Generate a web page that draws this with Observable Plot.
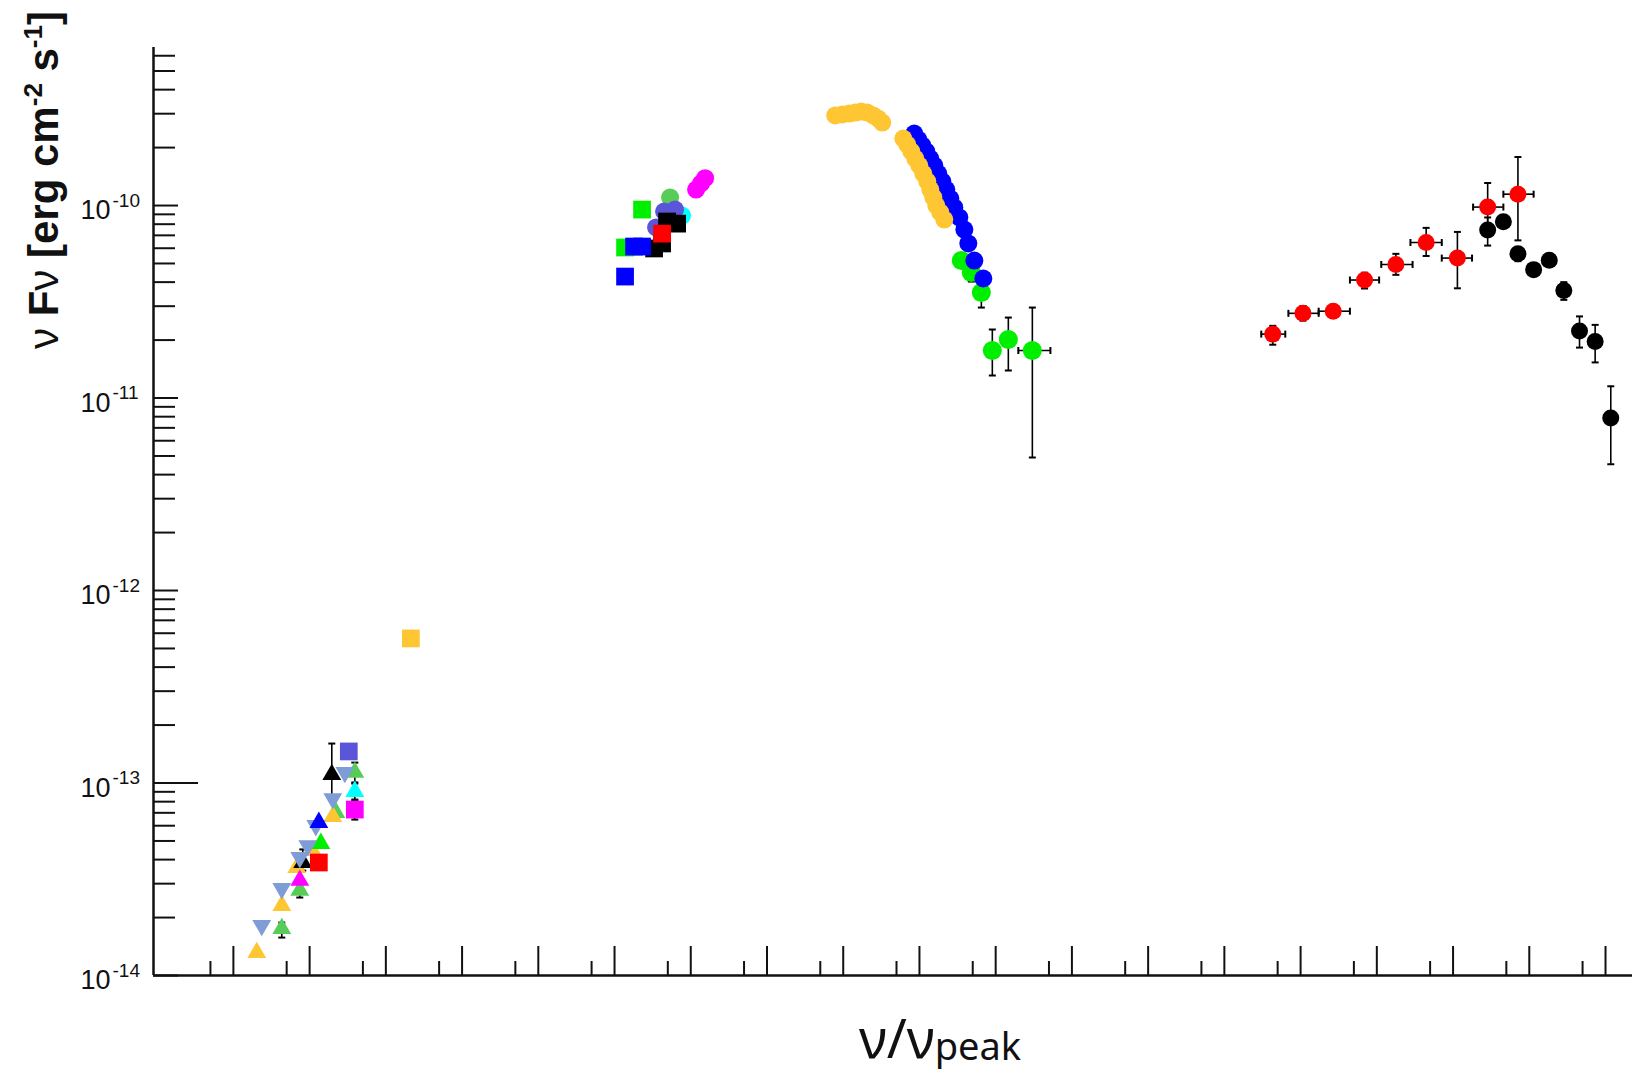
<!DOCTYPE html>
<html>
<head>
<meta charset="utf-8">
<script src="https://cdn.jsdelivr.net/npm/d3@7"></script>
<script src="https://cdn.jsdelivr.net/npm/@observablehq/plot@0.6"></script>
<style>
  html, body { margin: 0; padding: 0; background: #fff; }
  #chart { width: 1635px; height: 1074px; }
</style>
</head>
<body>
<div id="chart"></div>
<script>
// ---------------- DATA (log10 values) ----------------
// rows: [series, log10(ν/νpeak), log10(νFν), errLow, errHigh, xErrLow, xErrHigh]
const radioPoints = [
  ["orangeTri", -7.693, -13.881],
  ["bgDown",    -7.628, -13.740],
  ["lgreenTri", -7.365, -13.756, -13.803, -13.725],
  ["orangeTri", -7.365, -13.636],
  ["bgDown",    -7.365, -13.548],
  ["lgreenTri", -7.129, -13.558, -13.595, -13.527],
  ["magentaTri",-7.129, -13.506],
  ["orangeTri", -7.168, -13.439],
  ["blackTri",  -7.090, -13.413, -13.455, -13.345],
  ["bgDown",    -7.129, -13.387],
  ["orangeTri", -6.961, -13.351],
  ["bgDown",    -7.024, -13.325],
  ["redSq",     -6.879, -13.413],
  ["greenTri",  -6.853, -13.314],
  ["bgDown",    -6.919, -13.221],
  ["blueTri",   -6.879, -13.205],
  ["lgreenTri", -6.656, -13.153],
  ["orangeTri", -6.696, -13.174],
  ["bgDown",    -6.696, -13.081],
  ["blackTri",  -6.709, -12.956, -13.091, -12.795],
  ["bgDown",    -6.538, -12.945],
  ["purpleSq",  -6.486, -12.836],
  ["lgreenTri", -6.407, -12.945, -12.997, -12.894],
  ["cyanTri",   -6.407, -13.044, -13.086, -13.003],
  ["magentaSq", -6.407, -13.138, -13.190, -13.091],
  ["orangeSq",  -5.672, -12.249]
];

const opticalPoints = [
  ["lgreenCirc", -2.271, -9.958],
  ["cyanCirc",   -2.114, -10.052],
  ["purpleCirc", -2.455, -10.114],
  ["purpleCirc", -2.350, -10.031],
  ["purpleCirc", -2.206, -10.021],
  ["blackSq",    -2.481, -10.223],
  ["blackSq",    -2.376, -10.197],
  ["blackSq",    -2.311, -10.083],
  ["blackSq",    -2.179, -10.094],
  ["redSq",      -2.376, -10.146],
  ["greenSq",    -2.862, -10.218],
  ["greenSq",    -2.639, -10.021],
  ["blueSq",     -2.862, -10.369],
  ["blueSq",     -2.744, -10.213],
  ["blueSq",     -2.639, -10.213],
  ["magentaCirc",-1.930, -9.917],
  ["magentaCirc",-1.865, -9.885],
  ["magentaCirc",-1.812, -9.858]
];

const greenSyncPoints = [
  ["greenCirc", 1.549, -10.286],
  ["greenCirc", 1.680, -10.348, -10.395, -10.306],
  ["greenCirc", 1.812, -10.452, -10.530, -10.390],
  ["greenCirc", 1.956, -10.753, -10.883, -10.644],
  ["greenCirc", 2.166, -10.696, -10.857, -10.582],
  ["greenCirc", 2.481, -10.753, -11.309, -10.530, 2.297, 2.718]
];

const blueSyncLogNu = [0.932, 0.985, 1.037, 1.090, 1.142, 1.195, 1.247, 1.300, 1.352, 1.405, 1.457, 1.523, 1.589, 1.641, 1.720, 1.838];
const blueSyncLogF  = [-9.626, -9.657, -9.688, -9.719, -9.756, -9.792, -9.834, -9.875, -9.917, -9.964, -10.010, -10.062, -10.125, -10.197, -10.286, -10.379];

const orangeSyncLogNu = [-0.105, -0.013, 0.079, 0.158, 0.236, 0.315, 0.394, 0.459, 0.512,
                         0.788, 0.840, 0.893, 0.945, 0.998, 1.050, 1.103, 1.142, 1.182, 1.221, 1.273, 1.326];
const orangeSyncLogF  = [-9.532, -9.527, -9.522, -9.517, -9.512, -9.517, -9.532, -9.548, -9.569,
                         -9.652, -9.683, -9.719, -9.756, -9.792, -9.834, -9.875, -9.917, -9.958, -10.000, -10.036, -10.073];

const gammaBlackPoints = [
  ["blackCirc", 8.454, -10.127, -10.208, -10.062],
  ["blackCirc", 8.660, -10.084, -10.106, -10.062],
  ["blackCirc", 8.851, -10.251, -10.289, -10.219],
  ["blackCirc", 9.057, -10.333, -10.366, -10.300],
  ["blackCirc", 9.262, -10.284, -10.306, -10.262],
  ["blackCirc", 9.453, -10.441, -10.490, -10.398],
  ["blackCirc", 9.659, -10.652, -10.738, -10.576],
  ["blackCirc", 9.864, -10.706, -10.815, -10.620],
  ["blackCirc", 10.069, -11.104, -11.344, -10.939]
];

const gammaRedPoints = [
  ["redCirc", 5.635, -10.668, -10.723, -10.625, 5.484, 5.799],
  ["redCirc", 6.031, -10.560, -10.598, -10.522, 5.840, 6.237],
  ["redCirc", 6.428, -10.549, -10.583, -10.517, 6.237, 6.647],
  ["redCirc", 6.839, -10.387, -10.431, -10.349, 6.647, 7.030],
  ["redCirc", 7.250, -10.306, -10.360, -10.251, 7.058, 7.469],
  ["redCirc", 7.647, -10.192, -10.262, -10.116, 7.441, 7.852],
  ["redCirc", 8.057, -10.273, -10.430, -10.137, 7.852, 8.249],
  ["redCirc", 8.454, -10.008, -10.127, -9.883, 8.263, 8.660],
  ["redCirc", 8.851, -9.941, -10.181, -9.748, 8.660, 9.057]
];

// axis ticks (exponents)
const xMajorExp = [-8,-7,-6,-5,-4,-3,-2,-1,0,1,2,3,4,5,6,7,8,9,10];
const xMinorExp = [-9,-8,-7,-6,-5,-4,-3,-2,-1,0,1,2,3,4,5,6,7,8,9]; // at 5×10^n
const yMajorExp = [-14,-13,-12,-11,-10];
const yMinorMult = [2,3,4,5,6,7,8,9];
const yTopMinorMult = [2,3,4,5,6];
const xDomainExp = [-9.048, 10.354];
const yDomainExp = [-14, -9.179];

// ---------------- STYLES ----------------
const style = {
  orangeTri:  {symbol: "triangle", fill: "#FFC634", r: 7},
  bgDown:     {symbol: "triangle", fill: "#7E9CD6", r: 7, rotate: 180},
  lgreenTri:  {symbol: "triangle", fill: "#58CC58", r: 7},
  greenTri:   {symbol: "triangle", fill: "#00EE00", r: 7},
  magentaTri: {symbol: "triangle", fill: "#FF00FF", r: 7},
  blackTri:   {symbol: "triangle", fill: "#000000", r: 7},
  blueTri:    {symbol: "triangle", fill: "#0000FF", r: 7},
  cyanTri:    {symbol: "triangle", fill: "#00FFFF", r: 7},
  redSq:      {symbol: "square",   fill: "#FF0000", r: 10},
  purpleSq:   {symbol: "square",   fill: "#5B55D9", r: 10},
  magentaSq:  {symbol: "square",   fill: "#FF00FF", r: 10},
  orangeSq:   {symbol: "square",   fill: "#FFC634", r: 10},
  greenSq:    {symbol: "square",   fill: "#00EE00", r: 10},
  blueSq:     {symbol: "square",   fill: "#0000FF", r: 10},
  blackSq:    {symbol: "square",   fill: "#000000", r: 10},
  lgreenCirc: {symbol: "circle",   fill: "#58CC58", r: 9},
  cyanCirc:   {symbol: "circle",   fill: "#00FFFF", r: 9},
  purpleCirc: {symbol: "circle",   fill: "#5B55D9", r: 9},
  magentaCirc:{symbol: "circle",   fill: "#FF00FF", r: 9},
  greenCirc:  {symbol: "circle",   fill: "#00EE00", r: 9.5},
  blueCirc:   {symbol: "circle",   fill: "#0000FF", r: 9},
  orangeCirc: {symbol: "circle",   fill: "#FFC634", r: 9},
  redCirc:    {symbol: "circle",   fill: "#FF0000", r: 8.5},
  blackCirc:  {symbol: "circle",   fill: "#000000", r: 8.5}
};

// ---------------- BUILD ----------------
const p10 = v => (v == null ? null : 10 ** v);
const toRows = arr => arr.map(([s, lx, ly, ylo, yhi, xlo, xhi]) => ({
  s, x: p10(lx), y: p10(ly), ylo: p10(ylo), yhi: p10(yhi), xlo: p10(xlo), xhi: p10(xhi)
}));

const radio = toRows(radioPoints);
const optical = toRows(opticalPoints);
const greenSync = toRows(greenSyncPoints);
const blueSync = toRows(blueSyncLogNu.map((v, i) => ["blueCirc", v, blueSyncLogF[i]]));
const orangeSync = toRows(orangeSyncLogNu.map((v, i) => ["orangeCirc", v, orangeSyncLogF[i]]));
const gBlack = toRows(gammaBlackPoints);
const gRed = toRows(gammaRedPoints);
const all = [...radio, ...optical, ...greenSync, ...blueSync, ...orangeSync, ...gBlack, ...gRed];
const yErr = all.filter(d => d.ylo != null);
const xErr = all.filter(d => d.xlo != null);

const capH = {draw(c) { c.moveTo(-3.5, 0); c.lineTo(3.5, 0); }};
const capV = {draw(c) { c.moveTo(0, -3.5); c.lineTo(0, 3.5); }};

function dots(rows, order) {
  return order.map(k => Plot.dot(rows.filter(d => d.s === k), {
    x: "x", y: "y", symbol: style[k].symbol, fill: style[k].fill, r: style[k].r,
    rotate: style[k].rotate || 0, stroke: "none"
  }));
}

const W = 1635, H = 1074, mL = 153, mR = 3, mT = 47, mB = 99;
const frameW = W - mL - mR, frameH = H - mT - mB;

const xMajor = xMajorExp.map(e => 10 ** e);
const xMinor = xMinorExp.map(e => 5 * 10 ** e);
const yMajor = yMajorExp.map(e => 10 ** e);
const yMinor = [];
for (const e of yMajorExp.slice(0, 4)) for (const m of yMinorMult) yMinor.push(m * 10 ** e);
for (const m of yTopMinorMult) yMinor.push(m * 1e-10);

const labelFont = "Liberation Sans, Arial, Helvetica, sans-serif";

const chart = Plot.plot({
  width: W, height: H,
  marginLeft: mL, marginRight: mR, marginTop: mT, marginBottom: mB,
  style: {background: "#fff", overflow: "visible"},
  x: {type: "log", domain: xDomainExp.map(p10), axis: null},
  y: {type: "log", domain: yDomainExp.map(p10), axis: null},
  marks: [
    // axis ticks
    Plot.tickX(xMajor, {x: d => d, insetTop: frameH - 29, stroke: "#111", strokeWidth: 2}),
    Plot.tickX(xMinor, {x: d => d, insetTop: frameH - 14, stroke: "#111", strokeWidth: 2}),
    Plot.tickY(yMajor, {y: d => d, insetRight: frameW - 25, stroke: "#111", strokeWidth: 2}),
    Plot.tickY(yMinor, {y: d => d, insetRight: frameW - 22, stroke: "#111", strokeWidth: 2}),
    Plot.tickY([1e-13], {y: d => d, insetRight: frameW - 45, stroke: "#111", strokeWidth: 2}),
    Plot.ruleX([p10(xDomainExp[0])], {stroke: "#111", strokeWidth: 2.5}),
    Plot.ruleY([p10(yDomainExp[0])], {stroke: "#111", strokeWidth: 2.5}),
    // tick labels
    Plot.text(yMajor, {y: d => d, text: () => "10", frameAnchor: "left", textAnchor: "end",
      dx: -43, dy: 5, fontSize: 27, fontFamily: labelFont, fill: "#111"}),
    Plot.text(yMajor, {y: d => d, text: d => String(Math.round(Math.log10(d))), frameAnchor: "left",
      textAnchor: "start", dx: -41, dy: -5, fontSize: 19, fontFamily: labelFont, fill: "#111"}),
    // error bars
    Plot.ruleX(yErr, {x: "x", y1: "ylo", y2: "yhi", stroke: "#000", strokeWidth: 1.6}),
    Plot.dot(yErr, {x: "x", y: "ylo", symbol: capH, fill: "none", stroke: "#000", strokeWidth: 2}),
    Plot.dot(yErr, {x: "x", y: "yhi", symbol: capH, fill: "none", stroke: "#000", strokeWidth: 2}),
    Plot.ruleY(xErr, {y: "y", x1: "xlo", x2: "xhi", stroke: "#000", strokeWidth: 1.6}),
    Plot.dot(xErr, {x: "xlo", y: "y", symbol: capV, fill: "none", stroke: "#000", strokeWidth: 2}),
    Plot.dot(xErr, {x: "xhi", y: "y", symbol: capV, fill: "none", stroke: "#000", strokeWidth: 2}),
    // data points
    ...dots(radio, ["orangeSq", "lgreenTri", "orangeTri", "magentaTri", "blackTri", "redSq", "greenTri", "bgDown", "blueTri", "cyanTri", "magentaSq", "purpleSq"]),
    ...dots(optical, ["lgreenCirc", "cyanCirc", "purpleCirc", "blackSq", "redSq", "greenSq", "blueSq", "magentaCirc"]),
    ...dots(greenSync, ["greenCirc"]),
    ...dots(blueSync, ["blueCirc"]),
    ...dots(orangeSync, ["orangeCirc"]),
    ...dots(gBlack, ["blackCirc"]),
    ...dots(gRed, ["redCirc"])
  ]
});

document.getElementById("chart").appendChild(chart);

// axis titles with mixed styles (super/subscripts)
const svg = d3.select(chart);
const yt = svg.append("text")
  .attr("transform", "translate(58,180) rotate(-90)")
  .attr("text-anchor", "middle")
  .attr("fill", "#111")
  .style("font-family", labelFont)
  .style("font-size", "42px")
  .style("font-weight", "bold");
yt.append("tspan").text("ν ").style("font-weight", "normal");
yt.append("tspan").text("F");
yt.append("tspan").text("ν").style("font-weight", "normal");
yt.append("tspan").text(" [erg cm");
yt.append("tspan").text("-2").attr("dy", -16).style("font-size", "26px");
yt.append("tspan").text(" s").attr("dy", 16);
yt.append("tspan").text("-1").attr("dy", -16).style("font-size", "26px");
yt.append("tspan").text("]").attr("dy", 16);

const xt = svg.append("text")
  .attr("x", 940).attr("y", 1058)
  .attr("text-anchor", "middle")
  .attr("fill", "#111")
  .style("font-family", "Noto Sans, Open Sans, sans-serif")
  .style("font-size", "54px");
xt.append("tspan").text("ν/ν");
xt.append("tspan").text("peak").style("font-size", "38px").attr("dy", 2);
</script>
</body>
</html>
